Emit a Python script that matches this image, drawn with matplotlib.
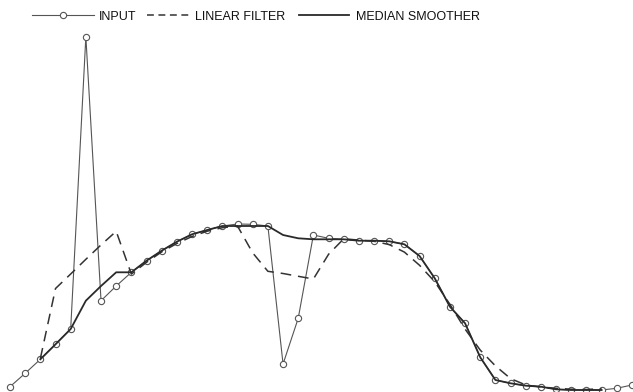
import matplotlib.pyplot as plt
from matplotlib.legend import Legend

# valores (altura em unidades arbitrárias)
input_signal = [
    5.3, 18.7, 32.7, 47.7, 63.0, 355.3, 91.3, 106.0, 119.7, 131.3,
    141.3, 150.3, 157.7, 162.0, 166.0, 168.0, 167.7, 166.0, 28.0, 73.7,
    157.0, 153.7, 152.7, 151.3, 151.3, 150.7, 147.7, 136.0, 113.7, 85.3,
    68.7, 34.7, 12.0, 8.7, 6.3, 5.3, 2.7, 2.0, 2.0, 2.0,
    3.7, 7.0,
]

linear_filter = [
    33.5, 103.5, 118.0, 132.7, 147.1, 160.7, 117.9, 129.7, 140.1, 148.5,
    155.5, 160.8, 164.3, 165.9, 139.1, 120.7, 118.5, 115.7, 113.0, 137.7,
    153.2, 151.9, 150.7, 147.4, 139.9, 126.7, 110.3, 87.7, 62.9, 41.9,
    26.1, 13.4, 7.0, 5.0, 3.7, 2.8, 2.5, 3.3,
]

median_smoother = [
    32.7, 47.7, 63.0, 91.3, 106.0, 119.7, 119.7, 131.3, 141.3, 150.3,
    157.7, 162.0, 166.0, 166.0, 166.0, 166.0, 157.0, 153.7, 152.7, 152.7,
    152.7, 151.3, 151.3, 150.7, 147.7, 136.0, 113.7, 85.3, 68.7, 34.7,
    12.0, 8.7, 6.3, 5.3, 2.7, 2.0, 2.0, 2.0,
]

x_input = list(range(len(input_signal)))
x_filtered = list(range(2, 2 + len(linear_filter)))

fig = plt.figure(figsize=(6.33, 3.92), dpi=100)
ax = fig.add_axes([0, 0, 1, 1])

(input_line,) = ax.plot(
    x_input, input_signal,
    color="#555555", linewidth=0.8,
    marker="o", markersize=4.5, markerfacecolor="white",
    markeredgecolor="#555555", markeredgewidth=0.8,
    label="INPUT",
)
(dashed,) = ax.plot(
    x_filtered, linear_filter,
    color="#333333", linewidth=1.1, linestyle="--",
    label="LINEAR FILTER",
)
dashed.set_dashes((7, 4.5))
(smooth_line,) = ax.plot(
    x_filtered, median_smoother,
    color="#2a2a2a", linewidth=1.3,
    label="MEDIAN SMOOTHER",
)

ax.set_xlim(-0.66, 41.07)
ax.set_ylim(0, 392)
ax.axis("off")

# uma legenda por série, cada uma com o comprimento de traço da figura original
legend_specs = [
    (input_line, 0.050, 5.0, 0.35),
    (dashed, 0.233, 3.4, 0.4),
    (smooth_line, 0.473, 4.0, 0.55),
]

for handle, x_pos, h_len, pad in legend_specs:
    leg = Legend(
        ax, [handle], [handle.get_label()],
        loc="upper left", bbox_to_anchor=(x_pos, 0.973),
        frameon=False, handlelength=h_len, handletextpad=pad,
        borderpad=0, borderaxespad=0,
        prop={"family": "Liberation Sans", "size": 9},
    )
    for text in leg.get_texts():
        text.set_color("#111111")
    if handle is dashed:
        leg.get_lines()[0].set_dashes((4.5, 3.0))
    ax.add_artist(leg)

fig.savefig("out.png", dpi=100)
